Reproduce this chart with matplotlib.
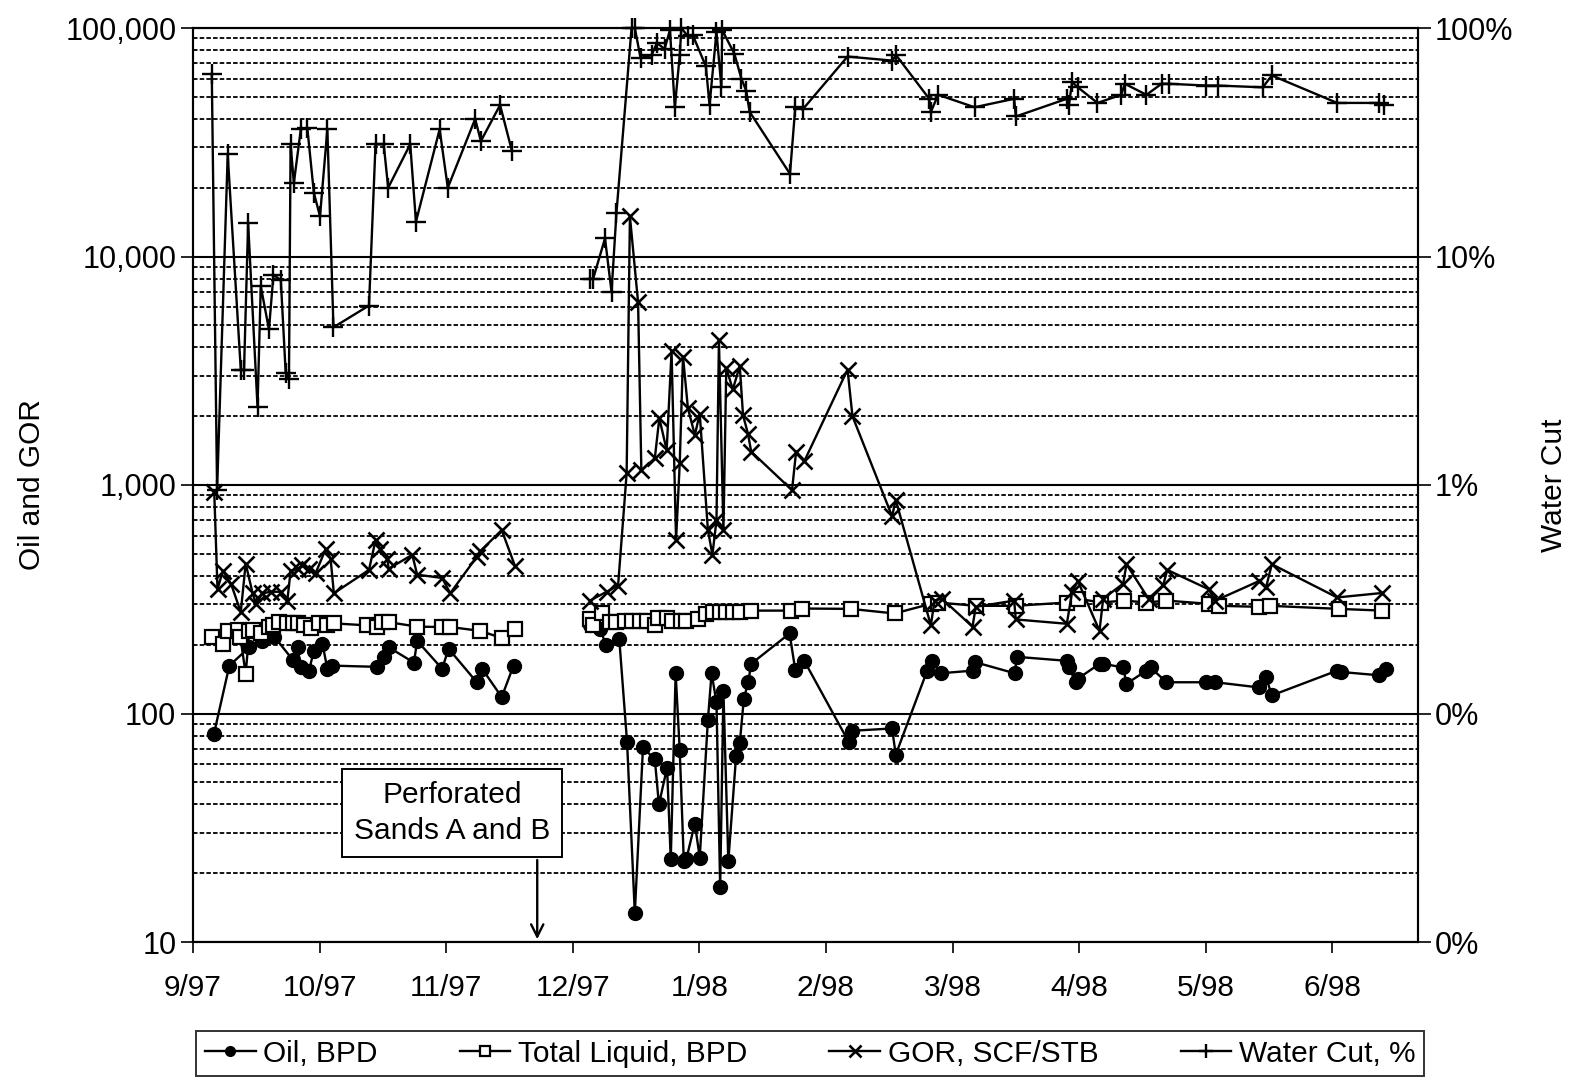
import numpy as np
import pandas as pd
import matplotlib
matplotlib.use("Agg")
import matplotlib.pyplot as plt
from matplotlib.ticker import FixedLocator, FuncFormatter, LogLocator, NullFormatter

plt.rcParams["font.family"] = ["Liberation Sans", "DejaVu Sans"]

nan = np.nan
START = pd.Timestamp("1997-09-01")

# days after 1 Sep 1997 (nan = shut-in gap before the perforation)
OIL_DAYS = [5.1, 8.9, 13.8, 17.0, 19.9, 24.4, 25.6, 26.4, 28.4, 29.6,
            31.7, 32.9, 34.1, 45.1, 46.7, 47.9, 54.1, 54.9, 61.0, 62.6,
            69.5, 70.8, 75.6, 78.5, 86,
            97.2, 99.7, 101.1, 104.4, 106.3, 108.2, 110.2, 113.1, 114.1, 116.1,
            117.0, 118.2, 119.2, 120.2, 120.8, 122.9, 124.1, 126.1, 127.0, 128.2,
            129.1, 129.9, 131.1, 133.0, 133.9, 134.9, 136.0, 136.7, 146.1, 147.5,
            149.7, 160.6, 161.4, 171.2, 172.1, 179.8, 181.1, 183.1, 190.9, 191.4,
            201.2, 201.8, 214.0, 214.5, 216.2, 216.7, 222.0, 222.9, 227.8, 228.6,
            233.5, 234.5, 238.4, 248.2, 250.4, 261.1, 262.8, 264.2, 280.2, 281.1,
            290.4, 292.1]
OIL_BPD = [81, 162, 195, 208, 217, 172, 195, 160, 154, 188,
           202, 157, 162, 160, 176, 195, 167, 208, 157, 192,
           137, 157, 118, 162, nan,
           243, 235, 200, 211, 75, 13.4, 71, 63, 40, 58,
           23, 150, 69, 22.6, 23, 33, 23.4, 94, 150, 112,
           17.4, 125, 22.6, 65, 74, 116, 138, 165, 224, 155,
           170, 75, 84, 86, 66, 154, 170, 150, 154, 168,
           150, 177, 170, 159, 137, 142, 165, 165, 159, 135,
           154, 159, 137, 137, 137, 130, 144, 120, 154, 152,
           147, 156]

LIQ_DAYS = [4.6, 7.3, 8.5, 11.0, 11.6, 12.9, 13.8, 14.6, 16.6, 18.6,
            19.5, 21.0, 23.1, 24.4, 25.6, 27.2, 28.8, 30.9, 32.9, 34.5,
            42.7, 45.1, 46.3, 47.9, 54.9, 61.0, 63.0, 70.3, 75.6, 78.9, 86,
            97.2, 98.0, 100.1, 102.1, 103.7, 105.8, 107.4, 109.4, 111.1,
            113.1, 113.9, 116.0, 117.2, 119.6, 120.8, 123.7, 125.7, 127.3, 129.0,
            130.6, 132.2, 133.9, 136.7, 146.5, 149.2, 161.1, 171.8, 180.7, 182.5,
            191.7, 201.5, 214.0, 216.7, 222.4, 228.1, 233.5, 238.4, 248.7, 251.3,
            261.1, 263.8, 280.6, 291.3]
LIQ_BPD = [216, 202, 230, 231, 216, 149, 230, 231, 224, 240,
           243, 251, 248, 248, 248, 243, 236, 248, 243, 248,
           243, 240, 251, 251, 240, 239, 239, 230, 214, 234, nan,
           260, 243, 274, 251, 251, 255, 255, 255, 255,
           243, 263, 263, 255, 255, 255, 260, 272, 278, 278,
           278, 278, 278, 282, 282, 288, 287, 274, 302, 306,
           296, 296, 306, 318, 306, 312, 306, 312, 302, 296,
           293, 296, 287, 282]

GOR_DAYS = [5.2, 6.0, 7.3, 9.3, 11.7, 12.9, 14.6, 15.4, 17.0, 19.1,
            21.5, 23.1, 23.9, 25.6, 26.8, 28.4, 30.0, 32.5, 33.7, 34.5,
            43.1, 44.7, 45.9, 47.6, 47.9, 53.7, 54.9, 61.0, 63.0, 69.5,
            70.3, 75.6, 78.9, 86,
            97.2, 101.3, 104.1, 106.2, 107.0, 109.0,
            109.8, 113.1, 114.2, 116.0, 117.2, 118.3, 119.2, 120.0, 121.2, 122.9,
            124.1, 126.1, 127.2, 128.2, 128.8, 129.9, 130.6, 132.2, 133.9, 134.7,
            135.9, 136.7, 146.7, 147.7, 149.7, 160.3, 161.5, 171.2, 172.1, 180.7,
            181.6, 183.4, 190.9, 191.7, 201.1, 201.5, 214.0, 215.3, 216.7, 222.0,
            222.9, 227.8, 228.6, 234.0, 237.6, 238.6, 248.7, 250.4, 261.1, 262.8,
            264.2, 280.2, 291.3]
GOR_SCF = [935, 350, 420, 370, 278, 453, 336, 302, 336, 341,
           341, 312, 420, 430, 445, 430, 410, 525, 475, 336,
           425, 573, 525, 475, 430, 495, 405, 392, 336, 485,
           512, 635, 440, nan,
           312, 341, 363, 1125, 15000, 6300,
           1160, 1310, 1960, 1420, 3850, 575, 1245, 3650, 2170, 1655,
           2050, 635, 495, 700, 4300, 635, 3250, 2620, 3320, 2020,
           1680, 1400, 950, 1400, 1270, 3200, 2000, 730, 860, 243,
           312, 318, 240, 293, 312, 258, 247, 341, 380, 230,
           318, 370, 450, 318, 365, 425, 350, 312, 380, 357,
           450, 322, 337]

WC_DAYS = [4.6, 5.9, 8.5, 11.7, 12.5, 13.5, 15.8, 16.6, 18.6, 19.7,
           21.5, 22.7, 23.5, 23.9, 24.7, 26.4, 28.0, 29.6, 31.1, 32.9,
           34.4, 43.1, 44.7, 46.7, 47.8, 53.2, 54.6, 60.4, 62.4, 69.1,
           70.5, 75.2, 78.1, 86,
           97.2, 98.0, 100.9, 102.5, 103.7, 107.4,
           108.2, 109.6, 112.3, 113.6, 115.5, 116.8, 118.0, 119.2, 119.6, 121.2,
           122.4, 125.6, 126.5, 128.2, 129.4, 129.6, 132.6, 134.3, 135.5, 136.3,
           146.2, 147.5, 149.3, 160.3, 171.2, 172.2, 180.3, 180.7, 182.5, 191.4,
           201.1, 201.5, 214.0, 214.5, 215.3, 216.7, 221.5, 227.3, 228.2, 233.5,
           237.2, 239.0, 248.2, 250.9, 262.0, 264.2, 280.2, 290.4, 291.6]
WC_PCT = [63, 0.95, 28, 3.2, 3.2, 14, 2.2, 7.4, 4.8, 8.3,
          7.9, 3.1, 2.9, 31, 21, 36, 36.5, 19, 15, 36,
          4.9, 6.1, 31, 31, 20, 31, 14.2, 36, 20, 40,
          32, 46, 29, nan,
          8.0, 8.0, 12, 7.0, 15.5, 100,
          100, 74, 76, 86, 81, 98, 45, 76, 100, 92,
          93, 68, 46, 96, 55, 98, 77, 60, 53, 43,
          23, 45, 44, 75, 72, 76, 49, 43, 51, 45,
          49, 41, 49, 46, 58, 55, 47, 51, 57, 51,
          57, 57, 56, 56, 55, 62, 47, 47, 46]

X_TICK_LABELS = ["9/97", "10/97", "11/97", "12/97", "1/98",
                 "2/98", "3/98", "4/98", "5/98", "6/98"]
X_TICK_STEP = 31      # days between labelled ticks
X_END = 300           # days shown

PERF_DAY = 84.3       # perforation of sands A and B
PERF_TEXT = "Perforated\nSands A and B"

FS = 21.5


def to_dates(days):
    return START + pd.to_timedelta(np.asarray(days, dtype=float), unit="D")


fig = plt.figure(figsize=(15.7, 10.8), dpi=100)
ax = fig.add_axes([193 / 1570, 1 - 942 / 1080, 1225 / 1570, 914 / 1080])
ax2 = ax.twinx()

ax.set_yscale("log")
ax.set_ylim(10, 100000)
ax2.set_yscale("log")
ax2.set_ylim(0.01, 100)
ax.set_xlim(to_dates([0])[0], to_dates([X_END])[0])

for a in (ax, ax2):
    a.yaxis.set_major_locator(LogLocator(base=10, numticks=10))
    a.yaxis.set_minor_locator(LogLocator(base=10, subs=np.arange(2, 10), numticks=10))
    a.yaxis.set_minor_formatter(NullFormatter())
ax.yaxis.set_major_formatter(FuncFormatter(lambda v, p: f"{v:,.0f}"))
ax2.yaxis.set_major_formatter(FuncFormatter(lambda v, p: f"{v:.0f}%"))

ax.grid(which="major", axis="y", color="black", linewidth=1.5)
ax.grid(which="minor", axis="y", color="black", linewidth=1.3, linestyle=(0, (2.5, 1.2)))
ax.set_axisbelow(True)

tick_days = [i * X_TICK_STEP for i in range(len(X_TICK_LABELS))]
ax.xaxis.set_major_locator(FixedLocator(matplotlib.dates.date2num(to_dates(tick_days))))
ax.set_xticklabels(X_TICK_LABELS)

for a in (ax, ax2):
    a.tick_params(axis="y", which="major", direction="out", length=9, width=1.2,
                  labelsize=FS + 0.5, pad=3)
    a.tick_params(axis="y", which="minor", length=0)
    for s in a.spines.values():
        s.set_linewidth(1.5)
        s.set_color("black")
ax.tick_params(axis="x", direction="out", length=8, width=1.2, labelsize=FS, pad=15)

ax.set_ylabel("Oil and GOR", fontsize=FS)
ax.yaxis.set_label_coords(-0.12, 0.5)
ax2.set_ylabel("Water Cut", fontsize=FS, rotation=90)
ax2.yaxis.set_label_coords(1.1, 0.5)

line_kw = dict(color="black", linewidth=1.7)
h_oil, = ax.plot(to_dates(OIL_DAYS), OIL_BPD, marker="o", markersize=10,
                 markerfacecolor="black", markeredgecolor="black", **line_kw)
h_liq, = ax.plot(to_dates(LIQ_DAYS), LIQ_BPD, marker="s", markersize=10,
                 markerfacecolor="white", markeredgecolor="black", markeredgewidth=1.6,
                 **line_kw)
h_gor, = ax.plot(to_dates(GOR_DAYS), GOR_SCF, marker="x", markersize=11.5,
                 markeredgewidth=1.9, **line_kw)
h_wc, = ax2.plot(to_dates(WC_DAYS), WC_PCT, marker="+", markersize=14,
                 markeredgewidth=1.7, clip_on=False, **line_kw)

# perforation callout
perf_date = to_dates([PERF_DAY])[0]
ax.annotate("", xy=(perf_date, 10), xytext=(perf_date, 23.5),
            arrowprops=dict(arrowstyle="->", color="black", lw=1.7,
                            mutation_scale=22), annotation_clip=False)
ax.text(to_dates([63.5])[0], 36.7, PERF_TEXT, ha="center", va="center",
        fontsize=FS, linespacing=1.35, zorder=6,
        bbox=dict(boxstyle="square,pad=0.4", facecolor="white",
                  edgecolor="black", linewidth=1.4))

leg = fig.legend([h_oil, h_liq, h_gor, h_wc],
                 ["Oil, BPD", "Total Liquid, BPD", "GOR, SCF/STB", "Water Cut, %"],
                 loc="center", bbox_to_anchor=(0.516, 0.0245),
                 ncol=4, frameon=True, fancybox=False, fontsize=FS,
                 handlelength=1.7, handletextpad=0.25, borderpad=0.3,
                 columnspacing=2.75, markerscale=0.7, borderaxespad=0)
leg.get_frame().set_edgecolor("black")
leg.get_frame().set_linewidth(1.4)

fig.savefig("out.png", dpi=100)
